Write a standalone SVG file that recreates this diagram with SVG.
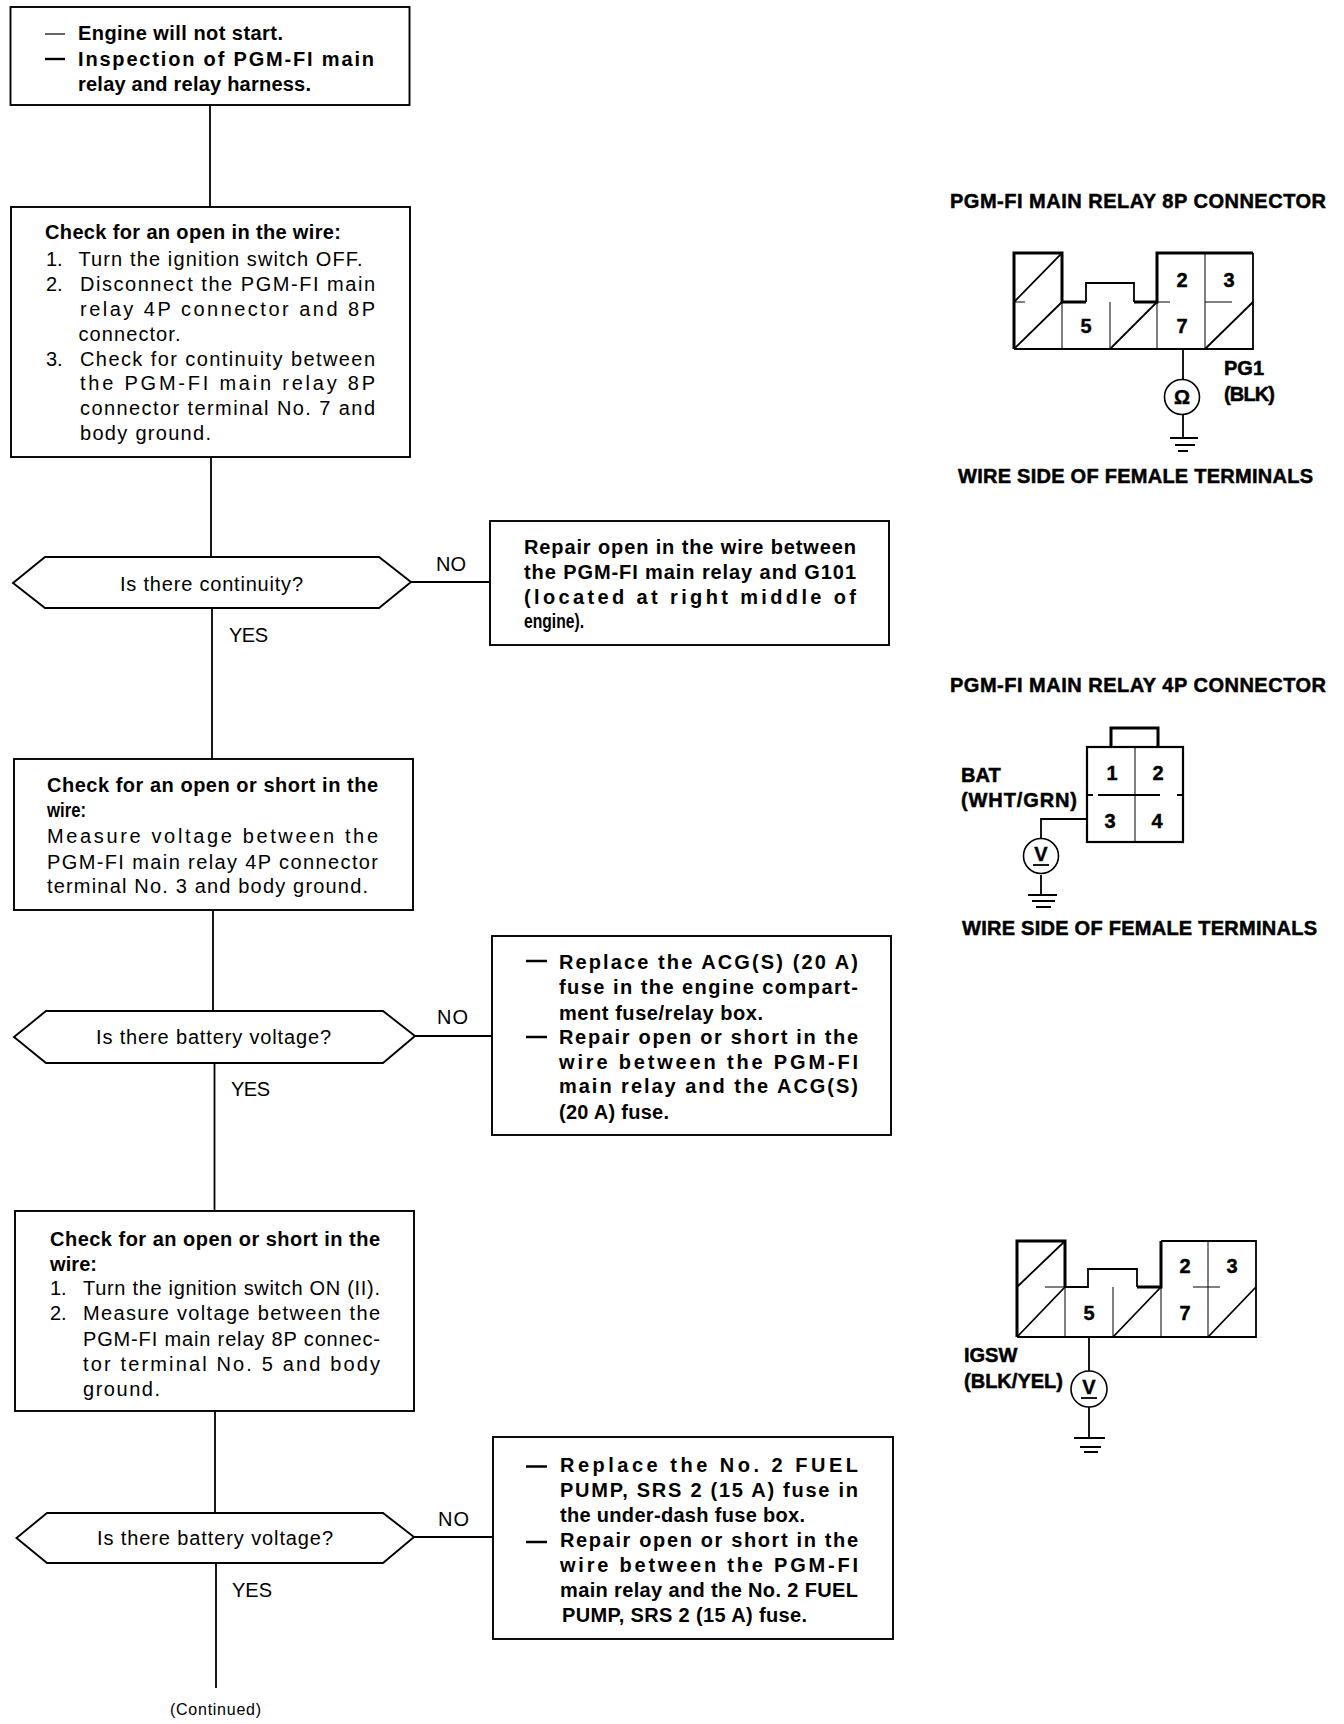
<svg xmlns="http://www.w3.org/2000/svg" width="1344" height="1724" viewBox="0 0 1344 1724">
<style>
text{font-family:"Liberation Sans",Arial,sans-serif;font-size:20px;fill:#000}
.b{font-weight:700}
.s{font-weight:700;stroke:#000;stroke-width:.5px}
.n{font-weight:700;font-size:20px;text-anchor:middle;stroke:#000;stroke-width:.4px}
.box{fill:#fff;stroke:#000;stroke-width:1.9}
.l{fill:none;stroke:#000;stroke-width:1.8}
.th{fill:none;stroke:#000;stroke-width:1}
.hv{fill:none;stroke:#000;stroke-width:3}
.c{fill:#fff;stroke:#000;stroke-width:1.6}
.d{stroke:#000;stroke-width:2.4}
</style>
<rect width="1344" height="1724" fill="#fff"/>
<g id="connectors" class="l">
<path class="l" d="M210 105V207M211 457V557M212 608V759M213 910V1011M214.500 1063V1211M215 1411V1513M216 1563V1688M411 582H490M415 1036H492M414 1537H493"/>
</g>
<g id="labels">
<text x="436" y="571" textLength="30">NO</text>
<text x="229" y="642" textLength="39">YES</text>
<text x="437" y="1024" textLength="31">NO</text>
<text x="231" y="1096" textLength="39">YES</text>
<text x="438" y="1526" textLength="31">NO</text>
<text x="232" y="1597" textLength="40">YES</text>
<text x="170" y="1715" textLength="91" style="font-size:16px">(Continued)</text>
</g>
<g id="start">
<rect class="box" x="10.500" y="7" width="399" height="98"/>
<path class="d" d="M45 34H65" style="stroke-width:1.2"/><path class="d" d="M45 59H65"/>
<text class="b" x="78" y="40" textLength="205">Engine will not start.</text>
<text class="b" x="78" y="66" textLength="296">Inspection of PGM-FI main</text>
<text class="b" x="78" y="91" textLength="233">relay and relay harness.</text>
</g>
<g id="check-open">
<rect class="box" x="11" y="207" width="399" height="250"/>
<text class="b" x="45" y="239" textLength="296">Check for an open in the wire:</text>
<text x="46" y="266">1.</text><text x="78.500" y="266" textLength="284">Turn the ignition switch OFF.</text>
<text x="46" y="291">2.</text><text x="80" y="291" textLength="295">Disconnect the PGM-FI main</text>
<text x="80" y="316" textLength="295">relay 4P connector and 8P</text>
<text x="78.500" y="341" textLength="102">connector.</text>
<text x="46" y="365.500">3.</text><text x="80" y="365.500" textLength="295">Check for continuity between</text>
<text x="80" y="390" textLength="295">the PGM-FI main relay 8P</text>
<text x="80" y="415" textLength="295">connector terminal No. 7 and</text>
<text x="80" y="440" textLength="131">body ground.</text>
</g>
<g id="q-continuity">
<polygon class="box" points="13,583 45,557 379,557 411,582 379,608 45,608"/>
<text x="120" y="591" textLength="183">Is there continuity?</text>
</g>
<g id="repair-1">
<rect class="box" x="490" y="521" width="399" height="124"/>
<text class="b" x="524" y="554" textLength="332">Repair open in the wire between</text>
<text class="b" x="524" y="579" textLength="332">the PGM-FI main relay and G101</text>
<text class="b" x="524" y="604" textLength="332">(located at right middle of</text>
<text class="b" x="524" y="628" textLength="60" lengthAdjust="spacingAndGlyphs">engine).</text>
</g>
<g id="check-open-short-1">
<rect class="box" x="14" y="759" width="399" height="151"/>
<text class="b" x="47" y="792" textLength="331">Check for an open or short in the</text>
<text class="b" x="47" y="817" textLength="39" lengthAdjust="spacingAndGlyphs">wire:</text>
<text x="47" y="843" textLength="331">Measure voltage between the</text>
<text x="47" y="869" textLength="331">PGM-FI main relay 4P connector</text>
<text x="47" y="893" textLength="321">terminal No. 3 and body ground.</text>
</g>
<g id="q-battery-1">
<polygon class="box" points="14,1037 46,1011 383,1011 415,1036 383,1063 46,1063"/>
<text x="96" y="1044" textLength="235">Is there battery voltage?</text>
</g>
<g id="repair-2">
<rect class="box" x="492" y="936" width="399" height="199"/>
<path class="d" d="M526 961H547M526 1037H547"/>
<text class="b" x="559" y="969" textLength="299">Replace the ACG(S) (20 A)</text>
<text class="b" x="559" y="994" textLength="299">fuse in the engine compart-</text>
<text class="b" x="559" y="1020" textLength="204">ment fuse/relay box.</text>
<text class="b" x="559" y="1044" textLength="299">Repair open or short in the</text>
<text class="b" x="559" y="1069" textLength="299">wire between the PGM-FI</text>
<text class="b" x="559" y="1093" textLength="299">main relay and the ACG(S)</text>
<text class="b" x="559" y="1119" textLength="110">(20 A) fuse.</text>
</g>
<g id="check-open-short-2">
<rect class="box" x="15" y="1211" width="399" height="200"/>
<text class="b" x="50" y="1246" textLength="330">Check for an open or short in the</text>
<text class="b" x="50" y="1271" textLength="47">wire:</text>
<text x="50" y="1295">1.</text><text x="83" y="1295" textLength="297">Turn the ignition switch ON (II).</text>
<text x="50" y="1320">2.</text><text x="83" y="1320" textLength="297">Measure voltage between the</text>
<text x="83" y="1345.500" textLength="297">PGM-FI main relay 8P connec-</text>
<text x="83" y="1371" textLength="297">tor terminal No. 5 and body</text>
<text x="83" y="1396" textLength="77">ground.</text>
</g>
<g id="q-battery-2">
<polygon class="box" points="16.500,1538 47,1513 383,1513 414,1537 383,1563 47,1563"/>
<text x="97" y="1545" textLength="236">Is there battery voltage?</text>
</g>
<g id="repair-3">
<rect class="box" x="493" y="1437" width="400" height="202"/>
<path class="d" d="M526 1466.500H547M526 1542H547"/>
<text class="b" x="560" y="1471.500" textLength="298">Replace the No. 2 FUEL</text>
<text class="b" x="560" y="1497" textLength="298">PUMP, SRS 2 (15 A) fuse in</text>
<text class="b" x="560" y="1522" textLength="245">the under-dash fuse box.</text>
<text class="b" x="560" y="1547" textLength="298">Repair open or short in the</text>
<text class="b" x="560" y="1572" textLength="298">wire between the PGM-FI</text>
<text class="b" x="560" y="1597" textLength="298">main relay and the No. 2 FUEL</text>
<text class="b" x="562" y="1622" textLength="245">PUMP, SRS 2 (15 A) fuse.</text>
</g>
<g id="connector-8p-pg1">
<text class="s" x="950" y="208" textLength="376">PGM-FI MAIN RELAY 8P CONNECTOR</text>
<path class="th" d="M1062 302V349M1110 302V349M1157 302V349M1205 253V349M1014 302H1025M1157 302H1170M1205 302H1232"/>
<path class="l" d="M1014 302L1062 253M1014 349L1062 302M1110 349L1157 302M1205 349L1253 302"/>
<path class="l" d="M1086 302V283H1134V302"/>
<path class="hv" d="M1014 349V253H1062V302H1086M1134 302H1157V253H1253"/>
<path class="l" d="M1253 253V349H1014"/>
<text class="n" x="1086" y="333">5</text><text class="n" x="1182" y="287">2</text><text class="n" x="1229" y="287">3</text><text class="n" x="1182" y="333">7</text>
<path class="l" d="M1183 349V380M1183 415V438M1170 438H1198M1175 445H1195M1178 451H1188"/>
<circle class="c" cx="1182" cy="397" r="17.500"/>
<text class="n" x="1182" y="404">Ω</text>
<text class="s" x="1224" y="375">PG1</text>
<text class="s" x="1224" y="401" textLength="51">(BLK)</text>
<text class="s" x="958" y="483" textLength="355">WIRE SIDE OF FEMALE TERMINALS</text>
</g>
<g id="connector-4p-bat">
<text class="s" x="950" y="692" textLength="376">PGM-FI MAIN RELAY 4P CONNECTOR</text>
<path class="th" d="M1135 747V842"/>
<path class="l" d="M1087 795H1093M1098 795H1160M1177 795H1183"/>
<rect x="1087" y="747" width="96" height="95" fill="none" stroke="#000" stroke-width="2.200"/>
<path class="hv" d="M1111 747V728H1158V747"/>
<text class="n" x="1112" y="780">1</text><text class="n" x="1158" y="780">2</text><text class="n" x="1110" y="828">3</text><text class="n" x="1157" y="828">4</text>
<text class="s" x="961" y="782">BAT</text>
<text class="s" x="961" y="807" textLength="116">(WHT/GRN)</text>
<path class="l" d="M1087 819H1041V839M1041 875V895M1028 895H1057M1032 901H1055M1036 907H1051"/>
<circle class="c" cx="1041" cy="856" r="17.500"/>
<text class="n" x="1041" y="861">V</text><path class="l" d="M1033 865H1049"/>
<text class="s" x="962" y="935" textLength="355">WIRE SIDE OF FEMALE TERMINALS</text>
</g>
<g id="connector-8p-igsw">
<path class="th" d="M1065 1287V1337M1113 1287V1337M1161 1287V1337M1208 1241V1337M1045 1287H1065M1193 1287H1220"/>
<path class="l" d="M1017 1287L1065 1241M1017 1337L1065 1287M1113 1337L1161 1287M1208 1337L1256 1287M1065 1287H1088V1269H1137V1287"/>
<path class="hv" d="M1017 1337V1241H1065V1287M1137 1287H1161V1241"/>
<path class="l" d="M1161 1241H1256V1337H1017"/>
<text class="n" x="1089" y="1320">5</text><text class="n" x="1185" y="1273">2</text><text class="n" x="1232" y="1273">3</text><text class="n" x="1185" y="1320">7</text>
<path class="l" d="M1089 1337V1371M1089 1407V1438M1074 1438H1105M1080 1447H1101M1084 1452H1098"/>
<circle class="c" cx="1089" cy="1389" r="18"/>
<text class="n" x="1089" y="1394">V</text><path class="l" d="M1081 1398H1097"/>
<text class="s" x="964" y="1362">IGSW</text>
<text class="s" x="964" y="1388" textLength="99">(BLK/YEL)</text>
</g>
</svg>
